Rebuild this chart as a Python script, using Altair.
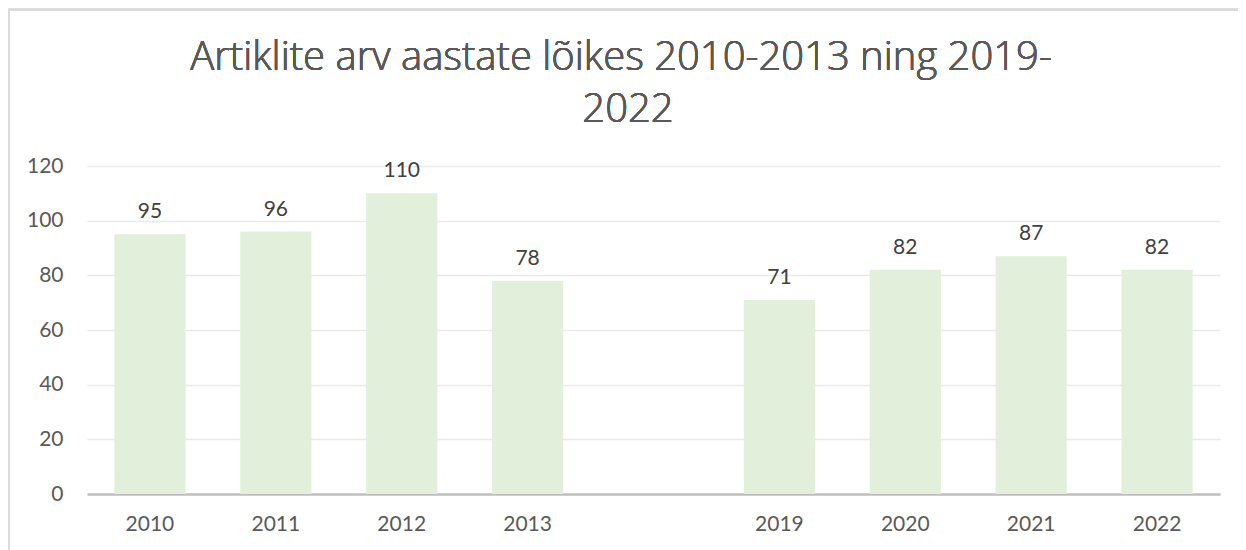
import altair as alt
import pandas as pd

years = ["2010", "2011", "2012", "2013", "2019", "2020", "2021", "2022"]
values = [95, 96, 110, 78, 71, 82, 87, 82]
domain = years[:4] + [" "] + years[4:]
y_ticks = [0, 20, 40, 60, 80, 100, 120]
title_lines = ["Artiklite arv aastate lõikes 2010-2013 ning 2019-", "2022"]

df = pd.DataFrame({"aasta": years, "arv": values})

W, H = 1133, 328
PL, PT, PR, PB = 79, 158, 18, 56
FONT = "Lato"
LABEL_SIZE = 21

x = alt.X("aasta:N", sort=domain,
          scale=alt.Scale(domain=domain, paddingInner=0.435, paddingOuter=0.2175),
          axis=alt.Axis(title=None, labelAngle=0, labelFontSize=LABEL_SIZE, labelColor="#595959",
                        labelFont=FONT, labelPadding=19, ticks=False,
                        domainColor="#bfbfbf", domainWidth=2.5, grid=False))
y = alt.Y("arv:Q", scale=alt.Scale(domain=[0, 120], nice=False),
          axis=alt.Axis(title=None, values=y_ticks, labelFontSize=LABEL_SIZE, labelColor="#595959",
                        labelFont=FONT, labelPadding=24, ticks=False, domain=False,
                        gridColor="#e9e9e9", gridWidth=1.3))

base = alt.Chart(df)
bars = base.mark_bar(color="#e2efda").encode(x=x, y=y)
labels = base.mark_text(dy=-16, baseline="alphabetic", fontSize=LABEL_SIZE,
                        color="#404040", font=FONT).encode(
    x=alt.X("aasta:N", sort=domain), y="arv:Q", text="arv:Q")
frame = base.mark_rect(fill=None, stroke="#d9d9d9", strokeWidth=1.5).encode(
    x=alt.value(-PL + 0.75), x2=alt.value(W + PR + 20),
    y=alt.value(-PT + 1.5), y2=alt.value(H + PB + 20))
TFONT = "Open Sans"
title1 = base.mark_text(fontSize=40, font=TFONT, fontWeight=300, color="#595959",
                        baseline="alphabetic", align="center").encode(
    x=alt.value(534), y=alt.value(-96), text=alt.value(title_lines[0]))
title2 = base.mark_text(fontSize=40, font=TFONT, fontWeight=300, color="#595959",
                        baseline="alphabetic", align="center").encode(
    x=alt.value(541), y=alt.value(-44), text=alt.value(title_lines[1]))

chart = alt.layer(frame, bars, labels, title1, title2).properties(
    width=W, height=H,
    autosize=alt.AutoSizeParams(type="none"),
    padding={"left": PL, "top": PT, "right": PR, "bottom": PB},
).configure(background="white").configure_view(stroke=None)

chart.save("out.html", embed_options={"renderer": "svg", "actions": False})
